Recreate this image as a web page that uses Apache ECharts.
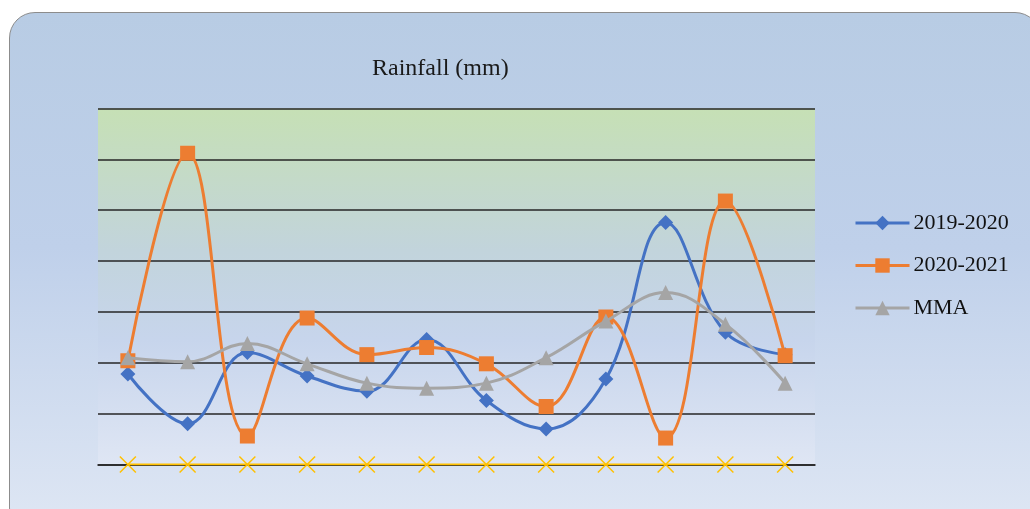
<!DOCTYPE html>
<html>
<head>
<meta charset="utf-8">
<script src="https://cdn.jsdelivr.net/npm/echarts@6/dist/echarts.min.js"></script>
<style>
  html, body { margin: 0; padding: 0; background: #ffffff; }
  #box { position: absolute; left: 9px; top: 12px; width: 1030px; height: 520px;
         border: 1.5px solid #8c8c8c; border-radius: 26px;
         background: linear-gradient(to bottom, #b8cce4 0%, #bfd0ea 45%, #dfe7f4 100%); }
  #chart { position: absolute; left: 0; top: 0; width: 1030px; height: 509px; }
</style>
</head>
<body>
<div id="box"></div>
<div id="chart"></div>
<script>
const categories = ['1','2','3','4','5','6','7','8','9','10','11','12'];
const rain2019_2020 = [89, 40, 110, 87, 72, 123, 63, 35, 84, 238, 130, 108];
const rain2020_2021 = [102, 306, 28, 144, 108, 115, 99, 57, 145, 26, 259, 107];
const mma = [105, 101, 119, 99, 80, 75, 80, 105, 141, 169, 138, 80];
const baseline = [0, 0, 0, 0, 0, 0, 0, 0, 0, 0, 0, 0];
const titleText = 'Rainfall (mm)';
const legendNames = ['2019-2020', '2020-2021', 'MMA'];

const chart = echarts.init(document.getElementById('chart'), null, { renderer: 'canvas' });
const serif = 'Liberation Serif, Times New Roman, serif';
chart.setOption({
  backgroundColor: 'transparent',
  animation: false,
  title: {
    text: titleText, left: 367, top: 52,
    textStyle: { fontFamily: serif, fontSize: 24, fontWeight: 'normal', color: '#1a1a1a' }
  },
  legend: {
    data: legendNames, orient: 'vertical', left: 854, top: 212, padding: 0,
    itemWidth: 54, itemHeight: 18, itemGap: 20.5,
    lineStyle: { width: 3 },
    textStyle: { fontFamily: serif, fontSize: 22, color: '#111', lineHeight: 22, padding: [0,0,0,-1] }
  },
  grid: {
    left: 98, right: 215, top: 108.5, bottom: 44.5, show: true, borderWidth: 0,
    backgroundColor: new echarts.graphic.LinearGradient(0, 0, 0, 1, [
      { offset: 0, color: '#c6e0b5' },
      { offset: 0.4, color: '#c2d4dc' },
      { offset: 0.65, color: '#c7d5ec' },
      { offset: 1, color: '#dfe6f4' }
    ])
  },
  xAxis: {
    type: 'category', data: categories, boundaryGap: true,
    axisLine: { show: true, lineStyle: { color: '#222222', width: 1.6 } },
    axisTick: { show: false }, axisLabel: { show: false }
  },
  yAxis: {
    type: 'value', min: 0, max: 350, interval: 50,
    axisLine: { show: false }, axisTick: { show: false }, axisLabel: { show: false },
    splitLine: { show: true, lineStyle: { color: '#262626', width: 1.6 } }
  },
  series: [
    { name: legendNames[0], type: 'line', data: rain2019_2020, smooth: 0.4,
      symbol: 'diamond', symbolSize: 15, z: 2,
      lineStyle: { color: '#4472c4', width: 3 }, itemStyle: { color: '#4472c4' } },
    { name: legendNames[1], type: 'line', data: rain2020_2021, smooth: 0.4,
      symbol: 'rect', symbolSize: 15, z: 3,
      lineStyle: { color: '#ed7d31', width: 3 }, itemStyle: { color: '#ed7d31' } },
    { name: legendNames[2], type: 'line', data: mma, smooth: 0.4,
      symbol: 'triangle', symbolSize: 15, z: 4,
      lineStyle: { color: '#a5a5a5', width: 3 }, itemStyle: { color: '#a5a5a5' } },
    { name: 'baseline', type: 'line', data: baseline, z: 5,
      symbol: 'path://M0,0L10,10M10,0L0,10', symbolSize: 16,
      lineStyle: { color: '#ffc000', width: 2 },
      itemStyle: { color: 'none', borderColor: '#ffc000', borderWidth: 1.5 } }
  ]
});
</script>
</body>
</html>
